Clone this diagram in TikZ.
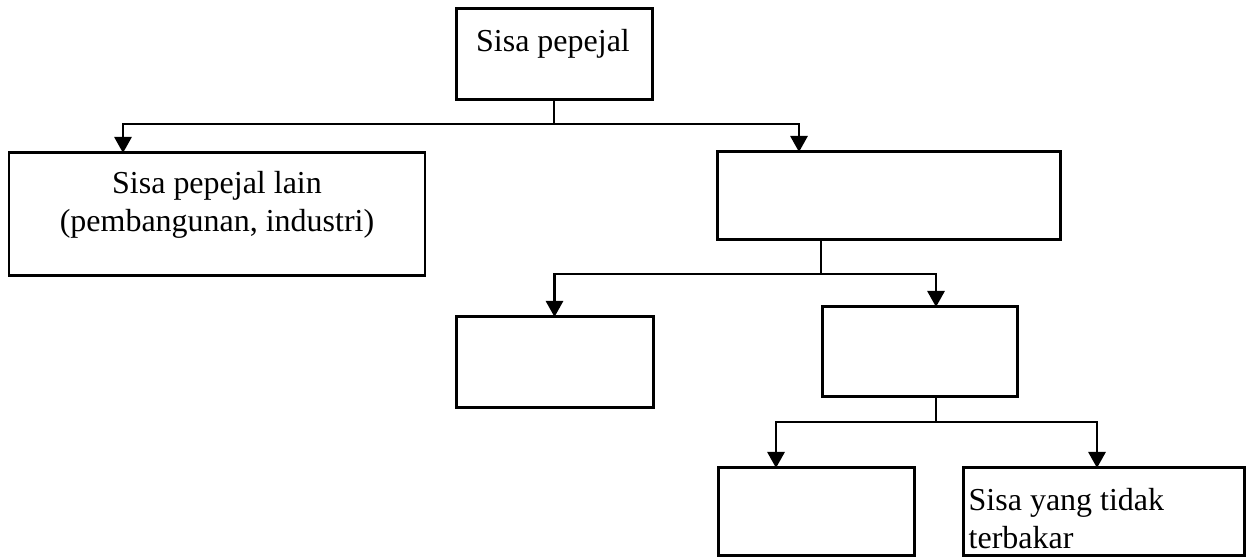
\documentclass[tikz,border=0pt]{standalone}
\usepackage{fontspec}
\setmainfont{Liberation Serif}
\usetikzlibrary{arrows.meta}
\tikzstyle{kotak}=[draw,rectangle,line width=0.85pt,inner sep=0pt,outer sep=0pt]
\tikzstyle{teks}=[inner sep=0pt,font=\fontsize{9.1}{10.6}\selectfont]
\tikzstyle{garis}=[line width=0.8pt]
\tikzstyle{panah}=[-{Triangle[width=1.7mm,length=1.6mm]},line width=0.8pt]

\begin{document}
\begin{tikzpicture}[x=0.1mm,y=-0.1mm]
    \useasboundingbox (0,0) rectangle (1249,558);
    \node[kotak,minimum width=19.6mm,minimum height=9.1mm] (b1) at (554,54.5) {};
    \node[kotak,minimum width=41.6mm,minimum height=12.3mm] (b2) at (217,214.5) {};
    \node[kotak,minimum width=34.3mm,minimum height=8.8mm] (b3) at (888.5,196) {};
    \node[kotak,minimum width=19.7mm,minimum height=9.1mm] (b4) at (554.5,362.5) {};
    \node[kotak,minimum width=19.5mm,minimum height=9mm] (b5) at (919.5,352) {};
    \node[kotak,minimum width=19.6mm,minimum height=8.8mm] (b6) at (816,512) {};
    \node[kotak,minimum width=28.1mm,minimum height=8.8mm] (b7) at (1103.5,512) {};

    \node[teks,anchor=base] (t1) at (553,52) {Sisa pepejal};
    \node[teks,anchor=north,align=center] (t2) at (217,171) {Sisa pepejal lain\\(pembangunan, industri)};
    \node[teks,anchor=north west,align=left] (t7) at (968,488) {Sisa yang tidak\\terbakar};

    % titik cabang
    \coordinate (j1) at (554,124);
    \coordinate (s3) at ([xshift=10.4mm]b3.south west);
    \coordinate (j2) at ([yshift=-3.4mm]s3);
    \coordinate (s5) at ([xshift=11.4mm]b5.south west);
    \coordinate (j3) at ([yshift=-2.5mm]s5);

    % hujung anak panah
    \coordinate (e2) at ([xshift=11.4mm]b2.north west);
    \coordinate (e3) at ([xshift=8.2mm]b3.north west);
    \coordinate (e5) at ([xshift=11.4mm]b5.north west);
    \coordinate (e6) at ([xshift=5.8mm]b6.north west);
    \coordinate (e7) at ([xshift=13.4mm]b7.north west);

    \draw[garis] (b1.south) -- (j1);
    \draw[garis] (s3) -- (j2);
    \draw[garis] (s5) -- (j3);
    \foreach \from/\to in {j1/e2,j1/e3,j2/b4.north,j2/e5,j3/e6,j3/e7}
    \draw[panah] (\from) -| (\to);
\end{tikzpicture}
\end{document}
